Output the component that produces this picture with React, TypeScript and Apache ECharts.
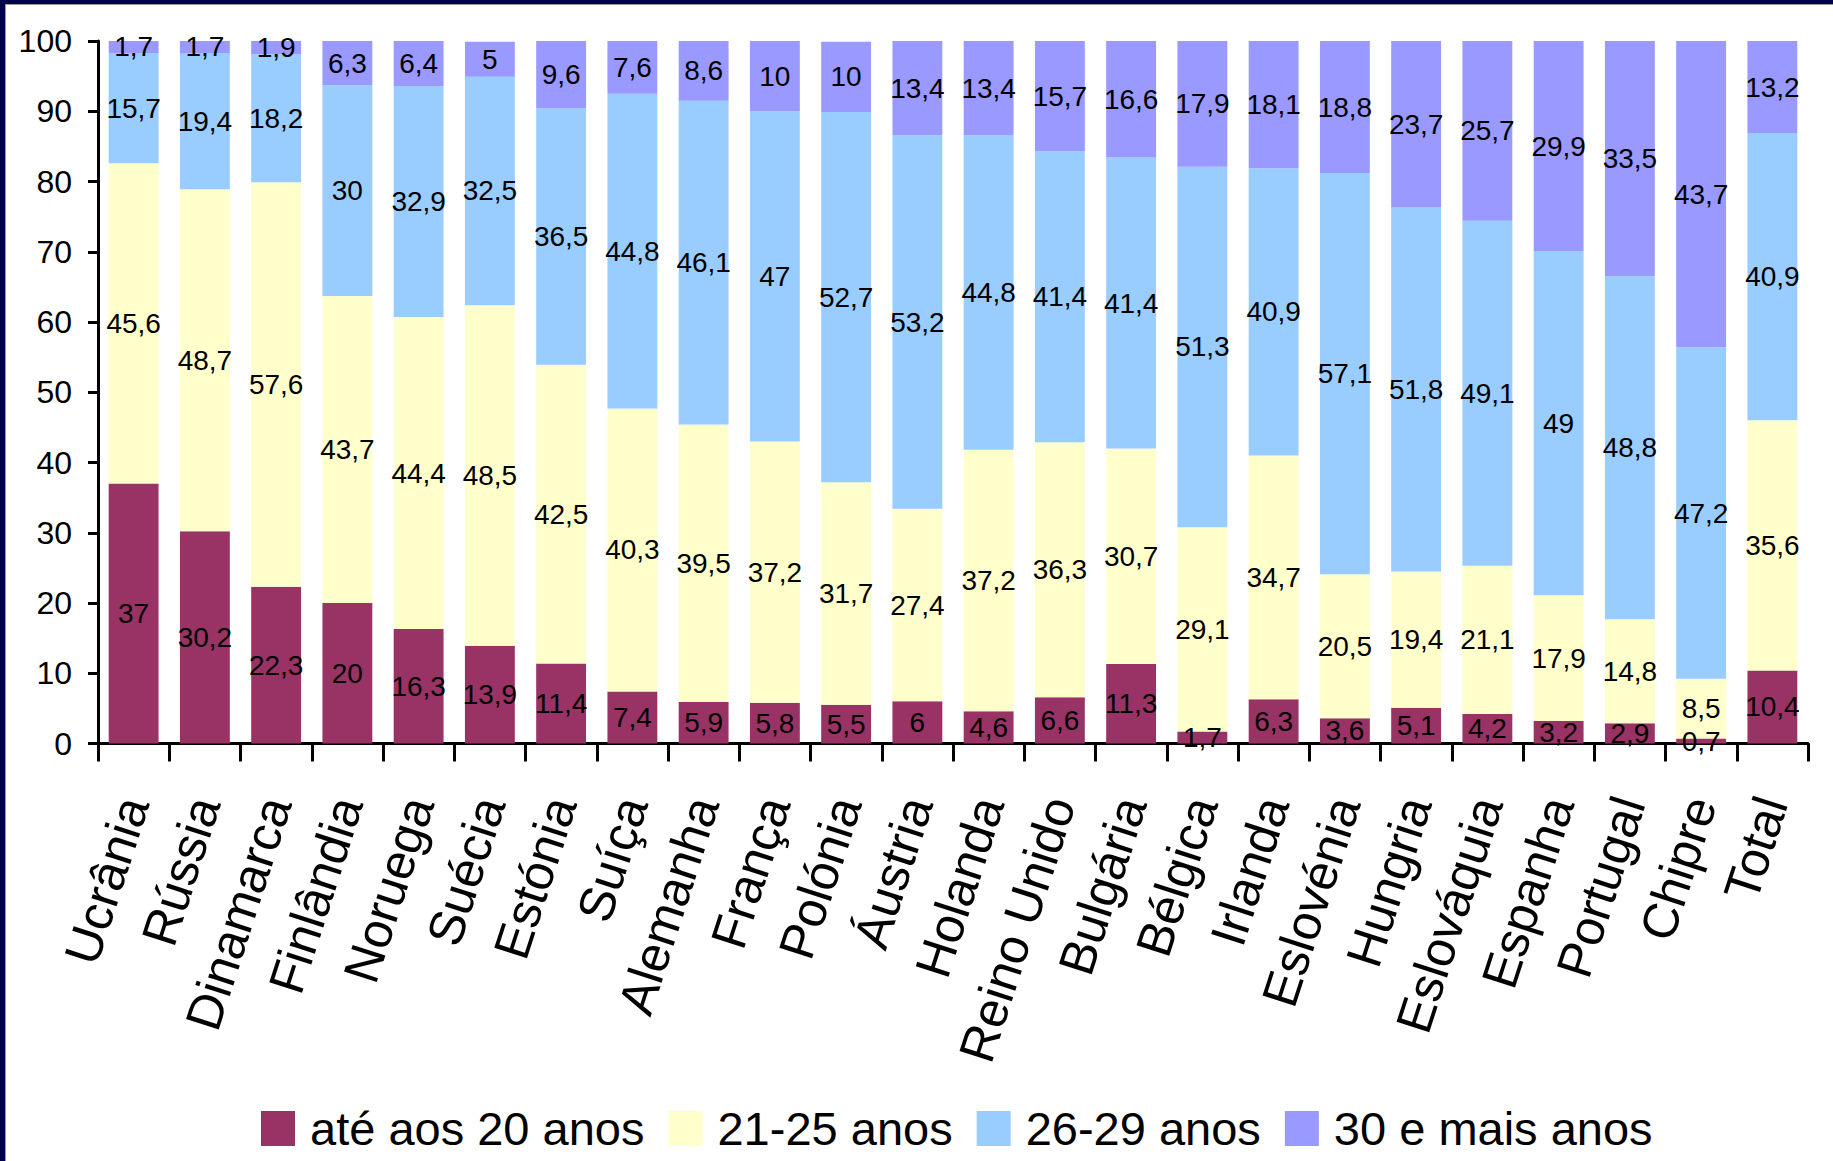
import React, { useEffect, useRef } from "react";
import * as echarts from "echarts";

const categories = [
  "Ucrânia", "Rússia", "Dinamarca", "Finlândia", "Noruega", "Suécia", "Estónia", "Suíça",
  "Alemanha", "França", "Polónia", "Áustria", "Holanda", "Reino Unido", "Bulgária", "Bélgica",
  "Irlanda", "Eslovénia", "Hungria", "Eslováquia", "Espanha", "Portugal", "Chipre", "Total",
];
const seriesNames = ["até aos 20 anos", "21-25 anos", "26-29 anos", "30 e mais anos"];
const ate20 = [37, 30.2, 22.3, 20, 16.3, 13.9, 11.4, 7.4, 5.9, 5.8, 5.5, 6, 4.6, 6.6, 11.3, 1.7, 6.3, 3.6, 5.1, 4.2, 3.2, 2.9, 0.7, 10.4];
const a21_25 = [45.6, 48.7, 57.6, 43.7, 44.4, 48.5, 42.5, 40.3, 39.5, 37.2, 31.7, 27.4, 37.2, 36.3, 30.7, 29.1, 34.7, 20.5, 19.4, 21.1, 17.9, 14.8, 8.5, 35.6];
const a26_29 = [15.7, 19.4, 18.2, 30, 32.9, 32.5, 36.5, 44.8, 46.1, 47, 52.7, 53.2, 44.8, 41.4, 41.4, 51.3, 40.9, 57.1, 51.8, 49.1, 49, 48.8, 47.2, 40.9];
const a30plus = [1.7, 1.7, 1.9, 6.3, 6.4, 5, 9.6, 7.6, 8.6, 10, 10, 13.4, 13.4, 15.7, 16.6, 17.9, 18.1, 18.8, 23.7, 25.7, 29.9, 33.5, 43.7, 13.2];
const seriesValues = [ate20, a21_25, a26_29, a30plus];
const colors = ["#993366", "#FFFFCC", "#99CCFF", "#9999FF"];
const yTicks = { min: 0, max: 100, interval: 10 };

export default function App() {
  const ref = useRef<HTMLDivElement>(null);
  useEffect(() => {
    if (!ref.current) return;
    const chart = echarts.init(ref.current, null, { renderer: "svg" });
    const narrow = "'Liberation Sans Narrow', 'Liberation Sans', Arial, sans-serif";
    const sans = "'Liberation Sans', Arial, sans-serif";
    chart.setOption({
      animation: false,
      backgroundColor: "#ffffff",
      textStyle: { fontFamily: sans },
      grid: { left: 98, right: 25, top: 41, bottom: 417.5, containLabel: false },
      legend: {
        data: seriesNames,
        left: 256,
        top: 1100,
        icon: "rect",
        itemWidth: 34,
        itemHeight: 35,
        itemGap: 24,
        textStyle: { fontSize: 47, color: "#000", fontFamily: sans, padding: [0, 0, 0, 10] },
      },
      xAxis: {
        type: "category",
        data: categories,
        axisLine: { lineStyle: { color: "#000", width: 3 } },
        axisTick: { show: true, length: 18, lineStyle: { color: "#000", width: 3 } },
        axisLabel: {
          rotate: 72,
          fontSize: 50,
          color: "#000",
          fontFamily: sans,
          margin: 55,
          interval: 0,
        },
      },
      yAxis: {
        type: "value",
        min: yTicks.min,
        max: yTicks.max,
        interval: yTicks.interval,
        splitLine: { show: false },
        axisLine: { show: true, lineStyle: { color: "#000", width: 3 } },
        axisTick: { show: true, length: 10, lineStyle: { color: "#000", width: 3 } },
        axisLabel: { fontSize: 32, color: "#000", fontFamily: sans, margin: 26 },
      },
      series: seriesValues.map((vals, i) => ({
        name: seriesNames[i],
        type: "bar",
        stack: "total",
        data: vals,
        barCategoryGap: "30%",
        itemStyle: { color: colors[i] },
        label: {
          show: true,
          position: "inside",
          color: "#000",
          fontSize: 28,
          fontFamily: narrow,
          formatter: (p: any) => String(p.value).replace(".", ","),
        },
      })),
      graphic: [
        { type: "rect", left: 0, top: 0, shape: { width: 1833, height: 4 }, style: { fill: "#00004d" } },
        { type: "rect", left: 0, top: 4, shape: { width: 1833, height: 1 }, style: { fill: "#999999" } },
        { type: "rect", left: 0, top: 0, shape: { width: 5, height: 1161 }, style: { fill: "#00004d" } },
        { type: "rect", left: 5, top: 4, shape: { width: 1, height: 1157 }, style: { fill: "#999999" } },
      ],
    });
    return () => chart.dispose();
  }, []);
  return (
    <div
      ref={ref}
      style={{ position: "absolute", left: 0, top: 0, width: 1833, height: 1161 }}
    />
  );
}
